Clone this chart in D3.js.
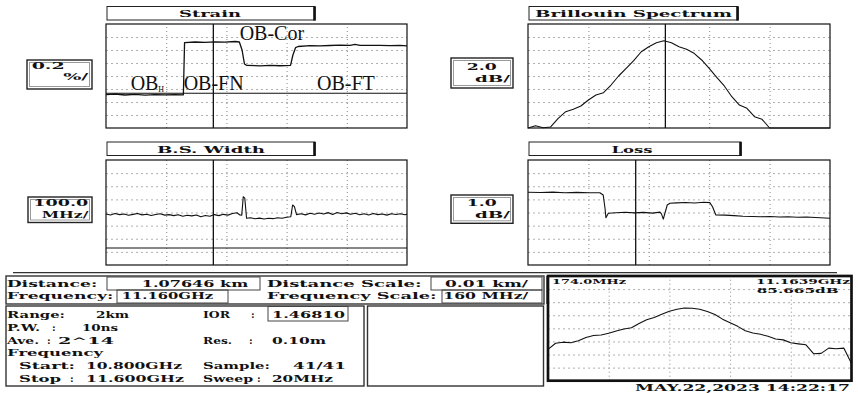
<!DOCTYPE html>
<html><head><meta charset="utf-8">
<script src="https://cdn.jsdelivr.net/npm/d3@7"></script>
<style>html,body{margin:0;padding:0;background:#fff;} svg{display:block;}</style>
</head><body><svg id="c" width="858" height="393"></svg>
<script>
// ================= DATA =================
const distDomainKm = [1.0408, 1.1408];
const freqDomainGHz = [10.8, 11.6];
const cursorDistKm = 1.07646;
const cursorFreqGHz = 11.1639;
const freqGHz = [10.80,10.82,10.84,10.86,10.88,10.90,10.92,10.94,10.96,10.98,
  11.00,11.02,11.04,11.06,11.08,11.10,11.12,11.14,11.16,11.18,
  11.20,11.22,11.24,11.26,11.28,11.30,11.32,11.34,11.36,11.38,
  11.40,11.42,11.44,11.46,11.48,11.50,11.52,11.54,11.56,11.58,11.60];

const strainDistKm = [1.0408,1.0438,1.0471,1.0504,1.0538,1.0571,1.0604,1.0637,1.0665,1.0669,
  1.0704,1.0737,1.0770,1.0803,1.0837,1.0851,1.0860,1.0868,1.0876,1.0920,
  1.0953,1.0986,1.1021,1.1029,1.1038,1.1046,1.1086,1.1119,1.1152,1.1185,
  1.1219,1.1235,1.1252,1.1285,1.1318,1.1351,1.1385,1.1408];
const strainPct = [0.515,0.523,0.508,0.518,0.505,0.514,0.511,0.515,0.511,1.315,
  1.323,1.318,1.326,1.320,1.331,1.323,1.200,0.985,0.962,0.957,
  0.965,0.958,0.965,1.123,1.238,1.254,1.266,1.265,1.269,1.274,
  1.271,1.285,1.272,1.271,1.272,1.268,1.270,1.262];
const strainRefPct = 0.534;
const strainLabels = ["OB-Cor", "OB", "OB-FN", "OB-FT"];
const strainLabelDistKm = [1.0852, 1.0490, 1.0666, 1.1109];
const strainLabelPct = [1.36, 0.59, 0.59, 0.59];

const specDb = [0.00,0.27,0.03,0.12,1.12,1.88,2.16,2.54,3.23,3.81,
  4.07,4.96,6.00,6.89,7.77,8.80,9.38,9.84,10.07,9.84,
  9.38,9.08,8.62,7.85,6.89,5.85,4.85,3.61,2.65,2.27,
  1.30,1.00,0,0,0,0,0,0,0,0,0];

const bswDistKm = [1.0408,1.0423,1.0438,1.0453,1.0468,1.0483,1.0498,1.0513,1.0528,1.0543,
  1.0558,1.0573,1.0588,1.0603,1.0618,1.0633,1.0648,1.0663,1.0678,1.0693,
  1.0708,1.0723,1.0738,1.0753,1.0768,1.0783,1.0798,1.0813,1.0828,1.0843,
  1.0853,1.0859,1.0864,1.0869,1.0875,
  1.0888,1.0903,1.0918,1.0933,1.0948,1.0963,1.0978,1.0993,1.1008,
  1.1022,1.1028,1.1034,1.1041,
  1.1056,1.1071,1.1086,1.1101,1.1116,1.1131,1.1146,1.1161,1.1176,1.1191,
  1.1206,1.1221,1.1236,1.1251,1.1266,1.1281,1.1296,1.1311,1.1326,1.1341,
  1.1356,1.1371,1.1386,1.1401,1.1408];
const bswMHz = [388,381,392,384,389,379,386,393,382,387,
  377,385,390,380,384,376,383,372,379,374,
  381,368,377,372,384,376,386,380,392,398,
  381,380,520,510,356,
  360,352,357,350,356,353,360,356,364,
  368,457,444,384,
  390,382,394,386,396,388,399,385,400,391,
  397,386,394,383,390,381,392,384,389,380,
  391,385,390,383,387];
const bswRefMHz = 130;

const lossDistKm = [1.0408,1.045,1.049,1.053,1.057,1.061,1.0646,1.0657,1.0663,1.0666,
  1.0674,1.070,1.073,1.076,1.079,1.082,1.0845,1.0850,1.0856,1.0869,
  1.0878,1.090,1.093,1.096,1.099,1.1010,1.1019,1.1030,1.106,1.109,
  1.112,1.115,1.118,1.121,1.124,1.127,1.130,1.133,1.136,1.1408];
const lossDb = [5.54,5.52,5.55,5.51,5.53,5.50,5.51,5.33,4.32,3.60,
  3.94,3.98,4.02,3.97,4.01,3.95,4.03,3.90,3.50,4.57,
  4.70,4.73,4.76,4.72,4.78,4.75,4.44,3.81,3.80,3.76,
  3.72,3.70,3.68,3.70,3.66,3.68,3.64,3.66,3.62,3.56];

const peakDb = [2.99,3.58,3.68,3.62,3.81,4.12,4.31,4.37,4.53,4.75,
  4.94,5.06,5.47,5.82,6.04,6.35,6.64,6.82,6.95,6.92,
  6.82,6.60,6.32,5.88,5.53,5.19,4.78,4.56,4.43,4.25,
  3.99,3.90,3.62,3.52,3.43,2.58,2.61,3.11,3.05,3.11,1.64];

// ================= DRAWING =================
const svg = d3.select('#c');
const F = "'DejaVu Serif', serif";

function txt(str, x, y, w, o) {
  o = o || {};
  const t = svg.append('text').attr('x', x).attr('y', y).text(str)
    .attr('font-family', o.family || F)
    .attr('font-weight', o.weight || 'bold')
    .attr('font-size', o.size || 10)
    .attr('fill', '#111')
    .attr('text-anchor', o.anchor || 'start');
  if (w) t.attr('textLength', w).attr('lengthAdjust', 'spacingAndGlyphs');
  return t;
}
function rect(x0, y0, x1, y1, stroke, sw) {
  svg.append('rect').attr('x', x0).attr('y', y0).attr('width', x1 - x0).attr('height', y1 - y0)
    .attr('fill', 'none').attr('stroke', stroke || '#111').attr('stroke-width', sw || 1);
}
function hline(x0, x1, y, stroke, sw) {
  svg.append('line').attr('x1', x0).attr('x2', x1).attr('y1', y).attr('y2', y)
    .attr('stroke', stroke || '#111').attr('stroke-width', sw || 1);
}
function vline(x, y0, y1, stroke, sw) {
  svg.append('line').attr('x1', x).attr('x2', x).attr('y1', y0).attr('y2', y1)
    .attr('stroke', stroke || '#111').attr('stroke-width', sw || 1);
}

function panel(p) {
  const x = d3.scaleLinear().domain(p.xDomain).range([p.x0, p.x1]);
  const y = d3.scaleLinear().domain(p.yDomain).range([p.y1, p.y0]).clamp(true);
  const g = svg.append('g');
  const xv = [2, 4, 6, 8].map(k => p.xDomain[0] + k * (p.xDomain[1] - p.xDomain[0]) / 10);
  const yv = [1, 2, 3, 4, 5, 6, 7].map(k => p.yDomain[0] + k * (p.yDomain[1] - p.yDomain[0]) / 8);
  const gx = g.append('g').attr('transform', `translate(0,${p.y1})`)
    .call(d3.axisBottom(x).tickValues(xv).tickSize(-(p.y1 - p.y0)).tickFormat(''));
  gx.select('.domain').remove();
  gx.selectAll('line').attr('stroke', '#8a8a8a').attr('stroke-dasharray', '1,3');
  const gy = g.append('g').attr('transform', `translate(${p.x0},0)`)
    .call(d3.axisLeft(y).tickValues(yv).tickSize(-(p.x1 - p.x0)).tickFormat(''));
  gy.select('.domain').remove();
  gy.selectAll('line').attr('stroke', '#b0b0b0').attr('stroke-dasharray', '2,3');
  if (p.refY !== undefined) hline(p.x0, p.x1, y(p.refY), '#111', 1.1);
  if (p.cursor !== undefined) vline(x(p.cursor), p.y0, p.y1, '#111', 1.3);
  const line = d3.line().x((d, i) => x(p.xs[i])).y(d => y(d));
  g.append('path').datum(p.ys).attr('d', line).attr('fill', 'none')
    .attr('stroke', '#111').attr('stroke-width', p.lw || 1.1).attr('stroke-linejoin', 'round');
  rect(p.x0, p.y0, p.x1, p.y1, '#111', p.frameW || 1.2);
  return {x, y};
}
function titleBox(x0, y0, x1, y1, label, cx, by, w) {
  rect(x0, y0, x1, y1, '#222', 1);
  vline(x1 - 0.5, y0, y1 + 0.5, '#111', 2.6);
  txt(label, cx, by, w, {anchor: 'middle'});
}
function scaleBox(x0, y0, x1, y1) {
  rect(x0, y0, x1, y1, '#222', 1.4);
  rect(x0 + 2.5, y0 + 2.5, x1 - 2.5, y1 - 2.5, '#9a9a9a', 1);
}

// ---- Strain ----
const sp = panel({x0: 106, y0: 24, x1: 407, y1: 128, xDomain: distDomainKm, yDomain: [0, 1.6],
  xs: strainDistKm, ys: strainPct, cursor: cursorDistKm, refY: strainRefPct, lw: 1.3});
titleBox(107, 6.5, 315, 20, 'Strain', 210, 17, 62);
scaleBox(27, 60, 92, 89);
txt('0.2', 31.7, 68.6, 33); txt('%/', 63.3, 80.3, 25);
strainLabels.forEach((s, i) => {
  svg.append('text').attr('x', sp.x(strainLabelDistKm[i])).attr('y', sp.y(strainLabelPct[i]))
    .attr('font-family', "'Liberation Serif', 'Times New Roman', serif").attr('font-size', 20)
    .attr('fill', '#111').text(s);
});
svg.append('text').attr('x', sp.x(strainLabelDistKm[1]) + 27.5).attr('y', sp.y(strainLabelPct[1]) + 2.4)
  .attr('font-family', "'Liberation Serif', serif").attr('font-size', 8).attr('fill', '#111').text('H');

// ---- Brillouin Spectrum ----
panel({x0: 528, y0: 24, x1: 830, y1: 128, xDomain: freqDomainGHz, yDomain: [0, 12],
  xs: freqGHz, ys: specDb, cursor: cursorFreqGHz});
titleBox(529, 6.5, 738, 20, 'Brillouin Spectrum', 633.5, 17.3, 197);
scaleBox(451, 58, 513, 88);
txt('2.0', 466.7, 70, 30); txt('dB/', 475, 81.7, 35);

// ---- B.S. Width ----
panel({x0: 106, y0: 160, x1: 407, y1: 265, xDomain: distDomainKm, yDomain: [0, 800],
  xs: bswDistKm, ys: bswMHz, cursor: cursorDistKm, refY: bswRefMHz});
titleBox(107, 142, 315, 155.5, 'B.S. Width', 211, 152.5, 108);
scaleBox(28, 197, 92, 222.5);
txt('100.0', 33.3, 205.9, 55); txt('MHz/', 41.7, 218.4, 46.7);

// ---- Loss ----
panel({x0: 528, y0: 160, x1: 830, y1: 265, xDomain: distDomainKm, yDomain: [0, 8],
  xs: lossDistKm, ys: lossDb, cursor: cursorDistKm});
titleBox(529, 142, 741, 155.5, 'Loss', 632, 152.5, 41);
scaleBox(451, 195, 513, 223.3);
txt('1.0', 466.7, 205.9, 30); txt('dB/', 475, 217.7, 35);

// ---- separator ----
hline(13, 837, 272.7, '#333', 1.2);

// ---- Distance / frequency block ----
rect(6, 276, 544, 304, '#333', 1.4);
vline(547, 276, 304, '#333', 1.4);
rect(107, 277, 260, 290, '#444', 1);
rect(117, 290, 228, 303, '#444', 1);
rect(431, 277, 542, 290, '#444', 1);
rect(442, 290, 542, 303, '#444', 1);
txt('Distance:', 6.7, 286.5, 90.6);
txt(d3.format('.5f')(cursorDistKm) + ' km', 141.7, 286.5, 106.6);
txt('Distance Scale:', 266.7, 286.5, 155);
txt('0.01 km/', 445, 286.5, 83);
txt('Frequency:', 6.7, 298.8, 106.6);
txt(d3.format('.2f')(cursorFreqGHz) + '0GHz', 121.7, 298.8, 91.6);
txt('Frequency Scale:', 266.7, 298.8, 170);
txt('160 MHz/', 443.3, 298.8, 85);

// ---- info box ----
rect(6, 306, 364, 386, '#333', 1.4);
rect(367.5, 306, 543.5, 386, '#333', 1.4);
rect(268, 306.5, 348, 321, '#444', 1);
const r = [318, 330.5, 343.5, 356, 369, 381.5];
txt('Range:', 7, r[0], 58); txt('2km', 96, r[0], 33); txt('IOR', 203, r[0], 27); txt(':', 251, r[0]);
txt('1.46810', 272, r[0], 73);
txt('P.W.', 7, r[1], 33); txt(':', 52, r[1]); txt('10ns', 82, r[1], 36);
txt('Ave.', 7, r[2], 32); txt(':', 47, r[2]); txt('2^14', 58, r[2], 56);
txt('Res.', 203, r[2], 29); txt(':', 249, r[2]); txt('0.10m', 272, r[2], 54);
txt('Frequency', 7, r[3], 96);
txt('Start:', 19, r[4], 56); txt(freqDomainGHz[0].toFixed(3) + 'GHz', 86, r[4], 96);
txt('Sample:', 203, r[4], 67); txt(freqGHz.length + '/' + freqGHz.length, 293, r[4], 53);
txt('Stop', 19, r[5], 42); txt(':', 70, r[5]); txt(freqDomainGHz[1].toFixed(3) + 'GHz', 86, r[5], 98);
txt('Sweep', 203, r[5], 50); txt(':', 257, r[5]); txt('20MHz', 272, r[5], 61);

// ---- bottom-right spectrum ----
panel({x0: 548, y0: 276, x1: 851.5, y1: 380.7, xDomain: freqDomainGHz, yDomain: [0, 10],
  xs: freqGHz, ys: peakDb, frameW: 2.7});
txt('174.0MHz', 552, 284, 74, {size: 8});
txt(cursorFreqGHz.toFixed(4) + 'GHz', 850, 284, 94, {size: 8, anchor: 'end'});
txt('85.665dB', 756.7, 292.5, 82, {size: 8});
txt('MAY.22,2023 14:22:17', 635, 391, 215, {size: 9.5});
</script></body></html>
